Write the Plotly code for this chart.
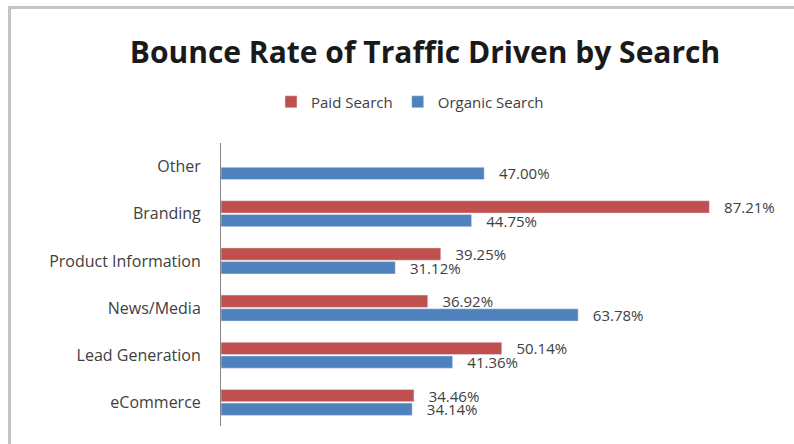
import plotly.graph_objects as go

categories = ["Other", "Branding", "Product Information", "News/Media", "Lead Generation", "eCommerce"]
paid_search = [None, 87.21, 39.25, 36.92, 50.14, 34.46]
organic_search = [47.00, 44.75, 31.12, 63.78, 41.36, 34.14]

W, H = 794, 444
L, R, T, B = 221, 13, 143, 18
pw, ph = W - L - R, H - T - B

def px_x(px):
    return (px - L) / pw

def px_y(py):
    return (H - B - py) / ph

FONT = "Open Sans, Lato, sans-serif"
label_font = dict(family=FONT, size=15, color="#404040")

fig = go.Figure()
fig.add_trace(go.Bar(
    name="Paid Search", y=categories, x=paid_search, orientation="h",
    marker=dict(color="#C0504D"),
    texttemplate="   %{x:.2f}%", textposition="outside", textfont=label_font,
    constraintext="none", cliponaxis=False,
))
fig.add_trace(go.Bar(
    name="Organic Search", y=categories, x=organic_search, orientation="h",
    marker=dict(color="#4F81BD"),
    texttemplate="   %{x:.2f}%", textposition="outside", textfont=label_font,
    constraintext="none", cliponaxis=False,
))

fig.update_layout(
    width=W, height=H,
    margin=dict(l=L, r=R, t=T, b=B),
    paper_bgcolor="white", plot_bgcolor="white",
    barmode="group", bargap=0.42, bargroupgap=0.1,
    title=dict(
        text="<b>Bounce Rate of Traffic Driven by Search</b>",
        x=425 / W, xanchor="center", y=1 - 52 / H, yanchor="middle",
        font=dict(family=FONT, size=30, color="#1a1a1a"),
    ),
    legend=dict(
        orientation="h", x=px_x(410), xanchor="center", y=px_y(102), yanchor="middle",
        font=dict(family=FONT, size=15, color="#404040"),
        bgcolor="rgba(0,0,0,0)", itemwidth=30,
    ),
    xaxis=dict(visible=False, range=[0, 100], fixedrange=True),
    yaxis=dict(
        autorange="reversed", showline=True, linecolor="#868686", linewidth=1,
        showgrid=False, ticks="", ticklabelstandoff=16,
        tickfont=dict(family=FONT, size=16, color="#404040"),
    ),
    shapes=[
        dict(type="line", xref="paper", yref="paper",
             x0=px_x(8), x1=px_x(W), y0=px_y(7.5), y1=px_y(7.5),
             line=dict(color="#c4c4c4", width=3)),
        dict(type="line", xref="paper", yref="paper",
             x0=px_x(9.5), x1=px_x(9.5), y0=px_y(6), y1=px_y(H),
             line=dict(color="#c4c4c4", width=3)),
    ],
)

fig.write_html("out.html", config={"displayModeBar": False},
               post_script="document.body.style.margin='0';")
